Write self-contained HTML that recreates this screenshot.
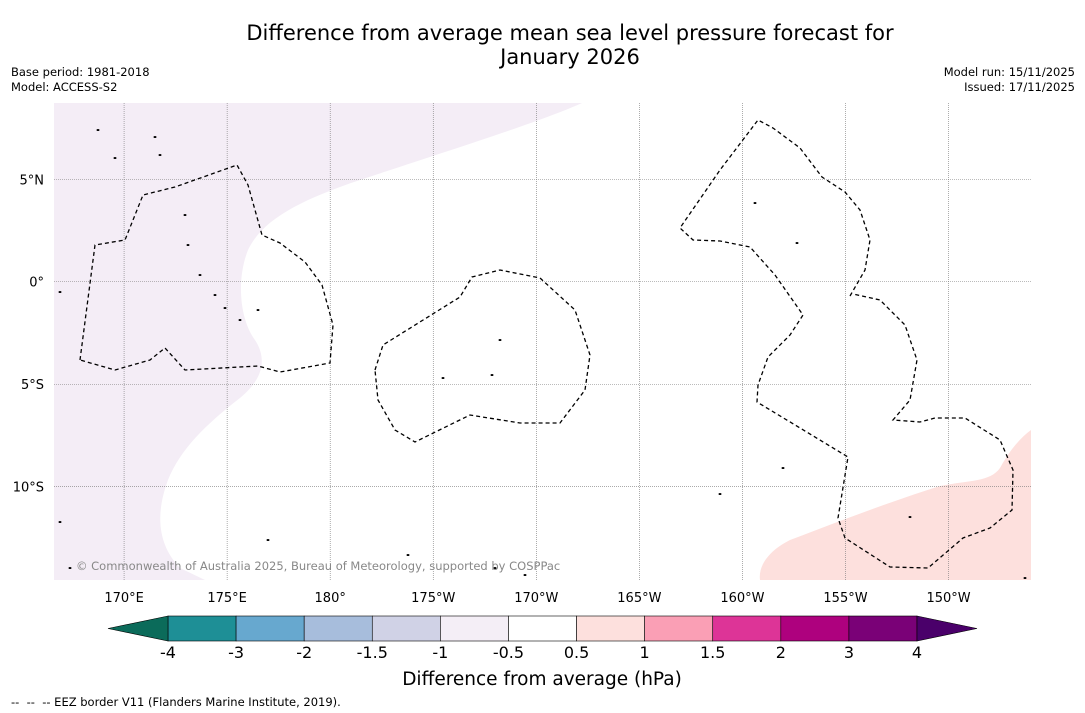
<!DOCTYPE html>
<html><head><meta charset="utf-8">
<style>
body{margin:0;background:#fff;font-family:"DejaVu Sans","Liberation Sans",sans-serif;}
#wrap{position:relative;width:1085px;height:713px;overflow:hidden;}
.t{position:absolute;font-size:12px;color:#000;}
svg text{font-family:"DejaVu Sans","Liberation Sans",sans-serif;}
</style></head><body>
<div id="wrap">
<div class="t" style="left:0;width:1140px;top:21px;text-align:center;font-size:21px;line-height:24px;">Difference from average mean sea level pressure forecast for<br>January 2026</div>
<div class="t" style="left:11px;top:65px;line-height:15px;font-size:11.5px;">Base period: 1981-2018<br>Model: ACCESS-S2</div>
<div class="t" style="right:10px;top:65px;line-height:15px;text-align:right;font-size:11.5px;">Model run: 15/11/2025<br>Issued: 17/11/2025</div>
<div class="t" style="left:11px;top:695px;font-size:11.5px;">--&nbsp; --&nbsp; -- EEZ border V11 (Flanders Marine Institute, 2019).</div>
<svg id="svg" width="1085" height="713" style="position:absolute;left:0;top:0"></svg>
</div>
<script>
const lonTicks=[170,175,180,185,190,195,200,205,210];
const lonLabels=["170°E","175°E","180°","175°W","170°W","165°W","160°W","155°W","150°W"];
const latTicks=[5,0,-5,-10];
const latLabels=["5°N","0°","5°S","10°S"];
const cbLevels=[-4,-3,-2,-1.5,-1,-0.5,0.5,1,1.5,2,3,4];
const cbLabels=["-4","-3","-2","-1.5","-1","-0.5","0.5","1","1.5","2","3","4"];
const cbColors=["#1e8f96","#67a8cf","#a7bddc","#d0d2e6","#f4eef6","#ffffff","#fde0dd","#fa9fb5","#dd3497","#ae017e","#7a0177"];
const cbExtLow="#0b6b5a", cbExtHigh="#4a006a";

const L={x0:54,x1:1031,y0:103,y1:580};
const lonMin=166.6,lonMax=214.0,latMax=8.72,latMin=-14.55;
const xS=lon=>L.x0+(lon-lonMin)/(lonMax-lonMin)*(L.x1-L.x0);
const yS=lat=>L.y0+(latMax-lat)/(latMax-latMin)*(L.y1-L.y0);
const svg=document.getElementById('svg');const NS="http://www.w3.org/2000/svg";
function mk(tag,at,parent){const e=document.createElementNS(NS,tag);for(const k in at)e.setAttribute(k,at[k]);(parent||svg).appendChild(e);return e;}

let p=mk('path',{d:"M54,103 L582,103 C540,122 450,150 360,180 C300,200 262,220 248,250 C236,280 240,320 255,340 C268,360 262,380 240,398 C205,425 180,450 168,480 C155,515 158,545 180,568 L205,580 L54,580 Z",fill:"#f4edf6"});

p=mk('path',{d:"M760,580 C758,565 770,550 790,540 C830,525 880,505 940,486 C970,480 990,482 1000,468 C1010,450 1020,438 1031,430 L1031,580 Z",fill:"#fde0dd"});


lonTicks.forEach((v,i)=>{const x=xS(v);
 const g=mk('line',{x1:x,x2:x,y1:L.y0,y2:L.y1,stroke:"#777","stroke-width":0.6,"stroke-dasharray":"1,1"});
 
 const t=mk('text',{x:x,y:602,"text-anchor":"middle","font-size":13});t.textContent=lonLabels[i];
 });
latTicks.forEach((v,i)=>{const y=yS(v);
 const g=mk('line',{x1:L.x0,x2:L.x1,y1:y,y2:y,stroke:"#777","stroke-width":0.6,"stroke-dasharray":"1,1"});
 
 const t=mk('text',{x:44,y:y+5,"text-anchor":"end","font-size":13});t.textContent=latLabels[i];
 });

const eez=[
"M80,360 L95,245 L125,240 L143,195 L175,187 L237,165 L248,185 L262,235 L280,243 L305,262 L322,285 L333,325 L330,363 L280,372 L258,366 L185,370 L165,348 L150,360 L115,370 Z",
"M375,370 L383,345 L460,297 L472,277 L500,270 L540,278 L575,310 L590,355 L585,390 L560,423 L520,423 L470,415 L415,442 L395,430 L378,400 Z",
"M850,296 L865,270 L870,240 L860,210 L845,192 L822,177 L800,148 L773,128 L758,120 L720,170 L680,228 L693,240 L720,241 L750,247 L775,275 L803,315 L790,335 L768,357 L758,385 L757,402 L848,457 L838,518 L845,538 L890,567 L928,568 L963,538 L990,528 L1012,510 L1013,470 L1000,440 L965,418 L935,418 L920,422 L893,420 L910,400 L917,360 L905,325 L880,300 L853,294"];
eez.forEach(d=>{const e=mk('path',{d:d,fill:"none",stroke:"#000","stroke-width":1.3,"stroke-dasharray":"4,3"});
 });

const isl=[[155,137],[160,155],[185,215],[188,245],[200,275],[215,295],[225,308],[240,320],[258,310],[500,340],[492,375],[443,378],[755,203],[797,243],[783,468],[720,494],[910,517],[60,292],[115,158],[98,130],[408,555],[495,568],[525,575],[70,568],[1025,578],[60,522],[268,540]];
isl.forEach(c=>{const e=mk('ellipse',{cx:c[0],cy:c[1],rx:1.5,ry:1,fill:"#000",stroke:"none"});
 });

let t=mk('text',{x:76,y:570,"font-size":11.5,fill:"#888"});t.textContent="© Commonwealth of Australia 2025, Bureau of Meteorology, supported by COSPPac";


const cbX0=168,cbX1=917,cbY0=616,cbY1=641;
const segW=(cbX1-cbX0)/cbColors.length;
const cx=i=>cbX0+i*segW;
cbColors.forEach((c,i)=>{const r=mk('rect',{x:cx(i),y:cbY0,width:segW,height:cbY1-cbY0,fill:c,stroke:"#000","stroke-width":0.6});
 });
let a=mk('polygon',{points:`${cbX0},${cbY0} 108,${(cbY0+cbY1)/2} ${cbX0},${cbY1}`,fill:cbExtLow,stroke:"#000","stroke-width":0.6});

a=mk('polygon',{points:`${cbX1},${cbY0} 977,${(cbY0+cbY1)/2} ${cbX1},${cbY1}`,fill:cbExtHigh,stroke:"#000","stroke-width":0.6});

cbLevels.forEach((v,i)=>{const tt=mk('text',{x:cx(i),y:658,"text-anchor":"middle","font-size":16});tt.textContent=cbLabels[i];
 });
t=mk('text',{x:542,y:685,"text-anchor":"middle","font-size":18.5});t.textContent="Difference from average (hPa)";

</script>
</body></html>
